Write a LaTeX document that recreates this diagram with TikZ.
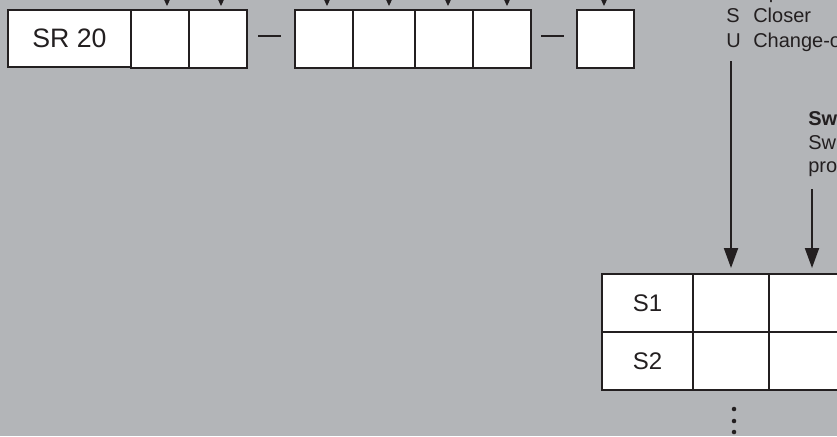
\documentclass[tikz,border=0pt]{standalone}
\usepackage{fontspec}
\setmainfont{Liberation Sans}
\usetikzlibrary{arrows.meta}
\definecolor{bg}{RGB}{179,181,184}
\definecolor{ink}{RGB}{35,31,32}
\begin{document}
\begin{tikzpicture}[x=0.75pt,y=-0.75pt,
  cell/.style={draw=ink, fill=white, line width=1.5pt, minimum height=43.5pt, minimum width=43.5pt, inner sep=0pt, outer sep=0pt},
  txt/.style={text=ink, font=\fontsize{15}{18}\selectfont, inner sep=0pt, anchor=base west},
  smallarr/.style={draw=ink, line width=0.8pt, -{Triangle[width=4pt,length=4.5pt]}, shorten >=3pt},
  bigarr/.style={draw=ink, line width=1.5pt, -{Triangle[width=10.5pt,length=15pt]}, shorten >=4.5pt},
  hyphenline/.style={draw=ink, line width=1.5pt},
  dotmark/.style={circle, fill=ink, inner sep=0pt, minimum size=3.4pt}]
\useasboundingbox (0,0) rectangle (837,436);
\clip (0,0) rectangle (837,436);
\fill[bg] (0,0) rectangle (837,436);

% top row of boxes
\node[cell, line width=2pt, minimum width=92.25pt, minimum height=42.75pt, font=\fontsize{20}{24}\selectfont, text=ink] (sr) at (69.5,38.5) {SR 20};
\node[cell] (c1) at (160,39) {};
\node[cell] (c2) at (218,39) {};
\node[cell] (d1) at (324,39) {};
\node[cell, minimum width=46.5pt] (d2) at (384,39) {};
\node[cell] (d3) at (444,39) {};
\node[cell] (d4) at (502,39) {};
\node[cell, minimum width=42.75pt] (e1) at (605.5,39) {};

% dashes
\coordinate (m1a) at (258,36); \coordinate (m1b) at (281,36);
\coordinate (m2a) at (541,36); \coordinate (m2b) at (564,36);
\draw[hyphenline] (m1a) -- (m1b);
\draw[hyphenline] (m2a) -- (m2b);

% small arrows from above
\coordinate (a1) at (167,-20);
\coordinate (a2) at (221,-20);
\coordinate (a3) at (327,-20);
\coordinate (a4) at (389,-20);
\coordinate (a5) at (448,-20);
\coordinate (a6) at (507,-20);
\coordinate (a7) at (604,-20);
\draw[smallarr] (a1) -- (a1 |- c1.north);
\draw[smallarr] (a2) -- (a2 |- c2.north);
\draw[smallarr] (a3) -- (a3 |- d1.north);
\draw[smallarr] (a4) -- (a4 |- d2.north);
\draw[smallarr] (a5) -- (a5 |- d3.north);
\draw[smallarr] (a6) -- (a6 |- d4.north);
\draw[smallarr] (a7) -- (a7 |- e1.north);

% key text
\node[txt] (kO) at (726,-2) {O};
\node[txt] (kOt) at (753,-2) {Opener};
\node[txt] (kS) at (726,22) {S};
\node[txt] (kSt) at (753,22) {Closer};
\node[txt] (kU) at (726,47) {U};
\node[txt] (kUt) at (753,47) {Change-over};

\node[txt, font=\fontsize{15}{18}\selectfont\bfseries] (sw1) at (808,125) {Switch};
\node[txt] (sw2) at (808,149) {Switch};
\node[txt] (sw3) at (808,172) {process};

% table
\node[cell, minimum width=68.25pt, font=\fontsize{18}{22}\selectfont, text=ink] (t11) at (647.5,303) {S1};
\node[cell, minimum width=57pt] (t12) at (731,303) {};
\node[cell, minimum width=64.5pt] (t13) at (812,303) {};
\node[cell, minimum width=68.25pt, font=\fontsize{18}{22}\selectfont, text=ink] (t21) at (647.5,361) {S2};
\node[cell, minimum width=57pt] (t22) at (731,361) {};
\node[cell, minimum width=64.5pt] (t23) at (812,361) {};

% big arrows
\coordinate (u1) at (731,61);
\coordinate (u2) at (812,189);
\draw[bigarr] (u1) -- (u1 |- t12.north);
\draw[bigarr] (u2) -- (u2 |- t13.north);

% dots
\node[dotmark] (p1) at (734,409) {};
\node[dotmark] (p2) at (734,421) {};
\node[dotmark] (p3) at (734,432) {};
\end{tikzpicture}
\end{document}
